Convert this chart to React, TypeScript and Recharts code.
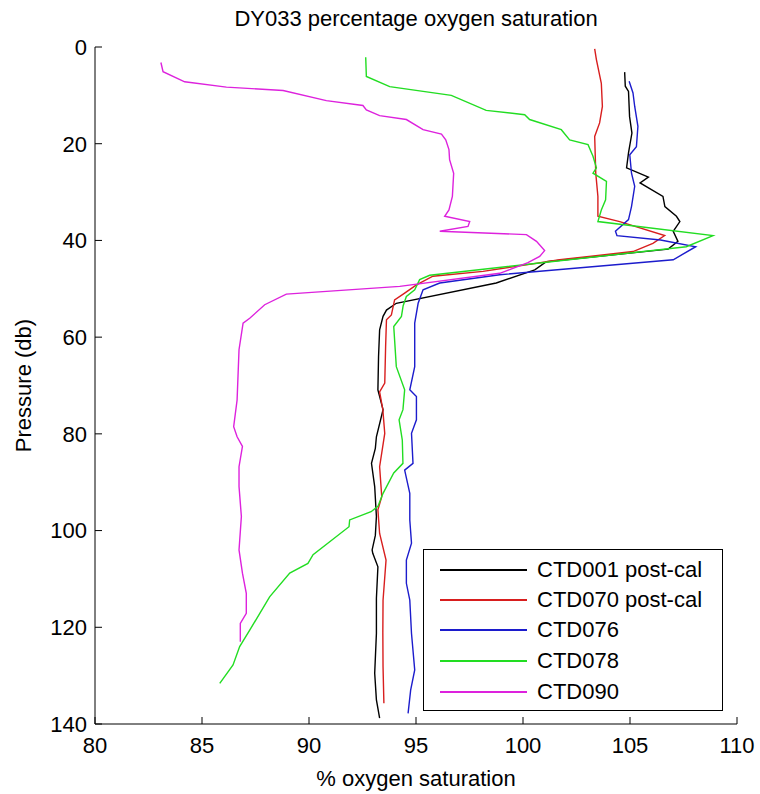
import { ScatterChart, Scatter, XAxis, YAxis, Legend } from "recharts"

// CTD casts: pressure (db) and % oxygen saturation
const ctd001 = [
  { p: 5.2, o: 104.75 }, { p: 8.1, o: 104.78 }, { p: 9.2, o: 104.93 }, { p: 14.4, o: 104.98 },
  { p: 17.8, o: 105.09 }, { p: 21.9, o: 104.93 }, { p: 25.0, o: 104.84 }, { p: 26.9, o: 105.86 },
  { p: 28.1, o: 105.47 }, { p: 30.9, o: 106.54 }, { p: 33.0, o: 106.63 }, { p: 35.0, o: 107.17 },
  { p: 36.1, o: 107.33 }, { p: 38.1, o: 107.02 }, { p: 40.2, o: 107.24 }, { p: 41.8, o: 106.78 },
  { p: 44.4, o: 101.09 }, { p: 46.1, o: 100.55 }, { p: 48.8, o: 98.75 }, { p: 53.0, o: 94.08 },
  { p: 54.4, o: 93.62 }, { p: 55.7, o: 93.46 }, { p: 58.5, o: 93.3 }, { p: 64.0, o: 93.25 },
  { p: 70.9, o: 93.22 }, { p: 75.0, o: 93.46 }, { p: 80.6, o: 93.15 }, { p: 83.0, o: 93.1 },
  { p: 86.1, o: 92.92 }, { p: 90.9, o: 93.07 }, { p: 97.1, o: 93.15 }, { p: 101.0, o: 93.1 },
  { p: 104.0, o: 92.95 }, { p: 104.7, o: 92.98 }, { p: 107.5, o: 93.22 }, { p: 114.0, o: 93.15 },
  { p: 121.3, o: 93.15 }, { p: 129.5, o: 93.07 }, { p: 135.0, o: 93.15 }, { p: 138.8, o: 93.3 },
]

const ctd070 = [
  { p: 0.4, o: 103.35 }, { p: 2.6, o: 103.43 }, { p: 7.5, o: 103.66 }, { p: 12.3, o: 103.71 },
  { p: 15.7, o: 103.58 }, { p: 18.5, o: 103.35 }, { p: 26.1, o: 103.4 }, { p: 30.9, o: 103.5 },
  { p: 35.0, o: 103.5 }, { p: 36.1, o: 104.52 }, { p: 39.0, o: 106.62 }, { p: 40.6, o: 106.07 },
  { p: 42.3, o: 105.14 }, { p: 44.0, o: 101.71 }, { p: 46.4, o: 98.13 }, { p: 47.4, o: 95.79 },
  { p: 49.2, o: 95.02 }, { p: 50.9, o: 94.47 }, { p: 52.3, o: 94.0 }, { p: 55.4, o: 93.85 },
  { p: 56.4, o: 93.62 }, { p: 62.0, o: 93.58 }, { p: 69.5, o: 93.54 }, { p: 71.3, o: 93.3 },
  { p: 75.0, o: 93.45 }, { p: 79.9, o: 93.54 }, { p: 86.8, o: 93.3 }, { p: 93.0, o: 93.4 },
  { p: 95.7, o: 93.22 }, { p: 100.6, o: 93.3 }, { p: 106.1, o: 93.6 }, { p: 114.4, o: 93.46 },
  { p: 121.0, o: 93.45 }, { p: 128.2, o: 93.46 }, { p: 135.7, o: 93.5 },
]

const ctd076 = [
  { p: 7.1, o: 104.96 }, { p: 9.5, o: 105.14 }, { p: 12.3, o: 105.22 }, { p: 16.4, o: 105.37 },
  { p: 20.6, o: 105.3 }, { p: 22.3, o: 104.99 }, { p: 26.1, o: 105.07 }, { p: 28.8, o: 105.22 },
  { p: 33.0, o: 105.07 }, { p: 35.7, o: 104.93 }, { p: 38.1, o: 104.32 }, { p: 39.0, o: 104.39 },
  { p: 39.9, o: 106.43 }, { p: 41.3, o: 108.07 }, { p: 44.0, o: 107.02 }, { p: 47.1, o: 98.91 },
  { p: 48.8, o: 96.11 }, { p: 50.2, o: 95.33 }, { p: 53.0, o: 95.1 }, { p: 57.1, o: 94.94 },
  { p: 66.1, o: 94.94 }, { p: 70.9, o: 94.71 }, { p: 72.3, o: 95.02 }, { p: 77.1, o: 95.02 },
  { p: 79.9, o: 94.79 }, { p: 86.1, o: 94.86 }, { p: 87.5, o: 94.47 }, { p: 92.3, o: 94.71 },
  { p: 97.8, o: 94.71 }, { p: 102.6, o: 94.79 }, { p: 106.1, o: 94.55 }, { p: 110.9, o: 94.55 },
  { p: 114.4, o: 94.71 }, { p: 121.3, o: 94.79 }, { p: 128.8, o: 94.94 }, { p: 133.0, o: 94.75 },
  { p: 137.8, o: 94.63 },
]

const ctd078 = [
  { p: 2.1, o: 92.65 }, { p: 6.1, o: 92.68 }, { p: 8.2, o: 93.77 }, { p: 10.0, o: 96.65 },
  { p: 13.1, o: 98.28 }, { p: 14.0, o: 100.08 }, { p: 15.0, o: 100.31 }, { p: 17.1, o: 101.79 },
  { p: 19.2, o: 102.18 }, { p: 20.2, o: 103.04 }, { p: 22.6, o: 103.27 }, { p: 25.0, o: 103.43 },
  { p: 26.1, o: 103.27 }, { p: 27.8, o: 103.9 }, { p: 31.6, o: 103.86 }, { p: 33.7, o: 103.66 },
  { p: 36.1, o: 103.5 }, { p: 39.0, o: 108.88 }, { p: 41.3, o: 107.63 }, { p: 47.2, o: 95.64 },
  { p: 48.1, o: 95.17 }, { p: 50.2, o: 94.94 }, { p: 51.6, o: 94.55 }, { p: 53.5, o: 94.4 },
  { p: 55.7, o: 94.32 }, { p: 57.8, o: 93.96 }, { p: 66.1, o: 94.08 }, { p: 70.9, o: 94.47 },
  { p: 75.0, o: 94.39 }, { p: 77.1, o: 94.21 }, { p: 81.3, o: 94.36 }, { p: 86.1, o: 94.39 },
  { p: 88.1, o: 93.96 }, { p: 92.3, o: 93.46 }, { p: 95.0, o: 93.22 }, { p: 96.1, o: 92.9 },
  { p: 97.8, o: 91.9 }, { p: 99.2, o: 91.87 }, { p: 105.0, o: 90.19 }, { p: 106.8, o: 89.95 },
  { p: 108.8, o: 89.1 }, { p: 113.7, o: 88.16 }, { p: 120.6, o: 87.23 }, { p: 124.0, o: 86.76 },
  { p: 127.8, o: 86.45 }, { p: 131.6, o: 85.83 },
]

const ctd090 = [
  { p: 3.2, o: 83.08 }, { p: 5.1, o: 83.18 }, { p: 7.2, o: 84.19 }, { p: 8.3, o: 86.14 },
  { p: 9.0, o: 88.79 }, { p: 11.1, o: 90.81 }, { p: 12.1, o: 92.52 }, { p: 13.0, o: 92.68 },
  { p: 14.2, o: 93.3 }, { p: 15.0, o: 94.55 }, { p: 17.1, o: 95.33 }, { p: 18.0, o: 96.19 },
  { p: 19.2, o: 96.39 }, { p: 21.2, o: 96.54 }, { p: 23.3, o: 96.57 }, { p: 26.1, o: 96.76 },
  { p: 30.9, o: 96.7 }, { p: 33.7, o: 96.54 }, { p: 35.0, o: 96.34 }, { p: 36.1, o: 97.51 },
  { p: 37.1, o: 97.43 }, { p: 38.1, o: 96.11 }, { p: 38.8, o: 100.16 }, { p: 40.2, o: 100.63 },
  { p: 42.1, o: 101.01 }, { p: 43.3, o: 100.78 }, { p: 44.6, o: 100.23 }, { p: 46.8, o: 98.91 },
  { p: 49.5, o: 94.24 }, { p: 51.1, o: 88.94 }, { p: 53.3, o: 87.93 }, { p: 56.1, o: 87.23 },
  { p: 57.1, o: 86.92 }, { p: 62.6, o: 86.73 }, { p: 73.0, o: 86.64 }, { p: 78.5, o: 86.48 },
  { p: 80.6, o: 86.64 }, { p: 82.6, o: 86.89 }, { p: 86.8, o: 86.73 }, { p: 90.9, o: 86.73 },
  { p: 97.1, o: 86.84 }, { p: 104.0, o: 86.73 }, { p: 108.8, o: 86.89 }, { p: 113.0, o: 87.07 },
  { p: 117.1, o: 87.07 }, { p: 119.2, o: 86.79 }, { p: 123.0, o: 86.79 },
]

const xTicks = [80, 85, 90, 95, 100, 105, 110]
const yTicks = [0, 20, 40, 60, 80, 100, 120, 140]

const series = [
  { name: "CTD001 post-cal", data: ctd001, color: "#000000" },
  { name: "CTD070 post-cal", data: ctd070, color: "#d81e1e" },
  { name: "CTD076", data: ctd076, color: "#1c1ccc" },
  { name: "CTD078", data: ctd078, color: "#22dd22" },
  { name: "CTD090", data: ctd090, color: "#dd22dd" },
]

const font = '"Liberation Sans", Arial, sans-serif'
const tickStyle = { fontSize: 22, fill: "#000", fontFamily: font }
const legendRows = [20, 50, 80, 111, 142] // row centres inside the legend box

const NoDot = () => <g />

const LegendBox = () => (
  <div style={{
    position: "relative", width: 300, height: 162, boxSizing: "border-box",
    border: "1px solid #000", background: "#fff", fontFamily: font,
  }}>
    {series.map((s, i) => (
      <div key={s.name}>
        <div style={{ position: "absolute", left: 16, top: legendRows[i] - 1, width: 87, height: 2, background: s.color }} />
        <div style={{
          position: "absolute", left: 113, top: legendRows[i] - 13, height: 26, lineHeight: "26px",
          fontSize: 22, color: "#000", whiteSpace: "nowrap",
        }}>
          {s.name}
        </div>
      </div>
    ))}
  </div>
)

export default function App() {
  return (
    <div style={{ position: "absolute", left: 0, top: 0, width: 760, height: 794, background: "#fff", fontFamily: font }}>
      <div style={{
        position: "absolute", left: 95, width: 642, top: 6, height: 26, lineHeight: "26px",
        textAlign: "center", fontSize: 22, color: "#000",
      }}>
        DY033 percentage oxygen saturation
      </div>
      <ScatterChart width={760} height={794} margin={{ top: 47, right: 23, bottom: 30, left: 35 }}>
        <XAxis
          xAxisId="b" type="number" dataKey="o" domain={[80, 110]} ticks={xTicks}
          orientation="bottom" height={40} tickSize={-7} tickMargin={20}
          tick={tickStyle} stroke="#000" allowDataOverflow
          label={{ value: "% oxygen saturation", position: "bottom", offset: 6, style: { fontSize: 22, fill: "#000" } }}
        />
        <XAxis
          xAxisId="t" type="number" domain={[80, 110]} ticks={xTicks}
          orientation="top" height={0} tickSize={-7} tick={false} stroke="#000" allowDataOverflow
        />
        <YAxis
          yAxisId="l" type="number" dataKey="p" domain={[0, 140]} ticks={yTicks} reversed
          orientation="left" width={60} tickSize={-7} tickMargin={15}
          tick={tickStyle} stroke="#000" allowDataOverflow
          label={{ value: "Pressure (db)", angle: -90, position: "insideLeft", offset: -12, style: { fontSize: 22, fill: "#000", textAnchor: "middle" } }}
        />
        <YAxis
          yAxisId="r" type="number" domain={[0, 140]} ticks={yTicks} reversed
          orientation="right" width={0} tickSize={-7} tick={false} stroke="#000" allowDataOverflow
        />
        {series.map((s) => (
          <Scatter
            key={s.name}
            name={s.name}
            data={s.data}
            xAxisId="b"
            yAxisId="l"
            line={{ stroke: s.color, strokeWidth: 1.4 }}
            shape={NoDot}
            fill={s.color}
            isAnimationActive={false}
          />
        ))}
        <Legend
          layout="vertical" align="center" verticalAlign="middle"
          content={LegendBox}
          wrapperStyle={{ left: 423, top: 549, width: 300, height: 162 }}
        />
      </ScatterChart>
    </div>
  )
}
